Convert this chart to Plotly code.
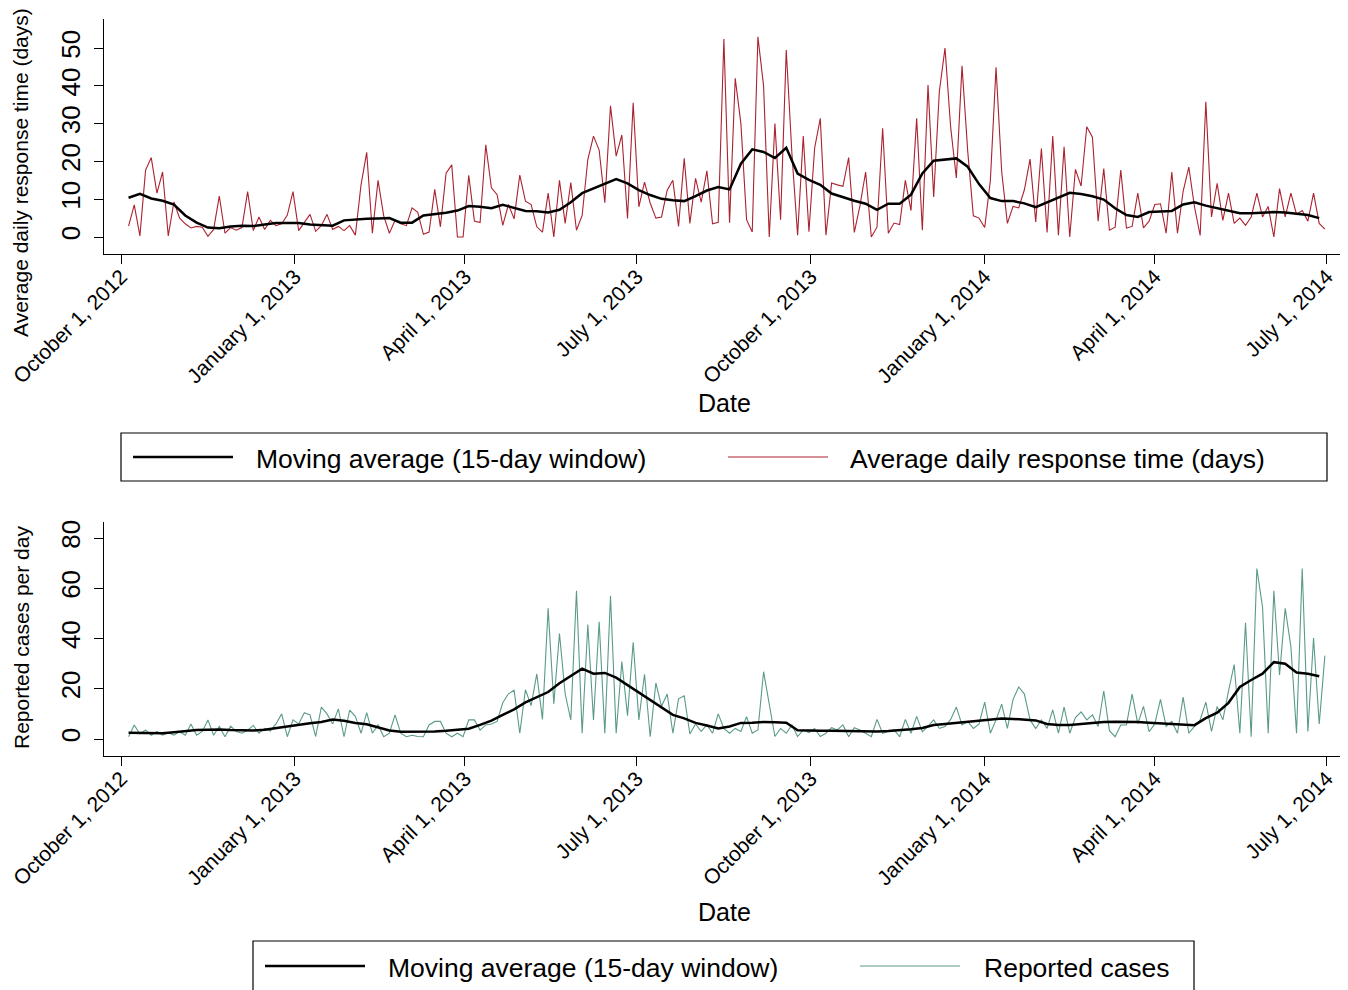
import pandas as pd
import plotly.graph_objects as go

# The page body adds an 8px margin, so the figure is drawn 8px in from the
# window's top-left corner; size it so it fits the 1348x990 window exactly.
OFF = 8
W, H = 1348 - OFF, 990 - OFF


def px(x):
    return (x - OFF) / W


def py(y):
    return 1 - (y - OFF) / H


# ---------------- data ----------------
tick_dates = ["2012-10-01", "2013-01-01", "2013-04-01", "2013-07-01",
              "2013-10-01", "2014-01-01", "2014-04-01", "2014-07-01"]
tick_labels = ["October 1, 2012", "January 1, 2013", "April 1, 2013", "July 1, 2013",
               "October 1, 2013", "January 1, 2014", "April 1, 2014", "July 1, 2014"]

# average daily response time (days), sampled every 3 days from 2012-10-05
response_daily = [
    2.9, 8.5, 0.3, 17.7, 21.0, 11.6, 17.2, 0.3, 9.3, 5.0,
    3.5, 2.4, 2.8, 2.6, 0.2, 2.0, 10.8, 1.0, 2.5, 1.8,
    2.5, 12.0, 1.7, 5.3, 2.0, 4.4, 3.0, 3.5, 5.8, 12.0,
    1.7, 4.0, 6.0, 1.5, 3.0, 6.0, 2.0, 2.8, 1.7, 3.0,
    0.5, 13.8, 22.4, 1.0, 15.0, 5.6, 1.0, 4.4, 3.5, 3.0,
    7.7, 6.5, 0.7, 1.3, 12.6, 2.7, 16.9, 19.1, 0.0, 0.0,
    16.3, 4.2, 3.8, 24.4, 13.0, 11.2, 3.1, 8.6, 4.8, 16.4,
    9.5, 8.6, 2.7, 1.3, 11.6, 0.0, 15.0, 3.6, 14.4, 1.8,
    5.7, 20.5, 26.7, 23.0, 9.1, 34.7, 21.4, 27.0, 4.9, 35.5,
    8.0, 14.5, 9.0, 5.0, 5.3, 12.4, 15.0, 2.8, 20.8, 3.6,
    15.5, 9.2, 17.5, 3.5, 3.9, 52.4, 3.8, 42.0, 30.0, 4.6,
    1.3, 53.0, 40.0, 0.0, 30.0, 4.6, 49.5, 22.0, 0.5, 26.7,
    1.4, 23.5, 31.4, 0.5, 14.3, 13.8, 13.4, 21.0, 1.2, 8.3,
    17.2, 0.0, 2.6, 28.8, 1.0, 3.7, 3.3, 15.0, 7.0, 31.4,
    1.8, 40.2, 10.6, 38.5, 50.0, 29.0, 15.6, 45.3, 22.8, 5.6,
    5.0, 2.5, 15.0, 44.9, 17.2, 3.6, 8.1, 7.7, 12.5, 20.6,
    4.0, 23.4, 1.2, 26.7, 0.5, 23.9, 0.0, 17.9, 13.5, 29.2,
    26.4, 4.2, 18.1, 1.8, 2.6, 17.7, 2.4, 2.8, 11.6, 2.4,
    4.2, 8.6, 8.8, 1.0, 17.2, 1.0, 12.1, 18.5, 8.0, 0.4,
    35.8, 5.3, 14.2, 4.4, 11.6, 3.6, 5.0, 3.1, 5.3, 11.6,
    5.3, 8.1, 0.0, 12.8, 5.3, 11.6, 6.0, 7.0, 4.2, 11.6,
    3.6, 2.1,
]

# 15-day moving average of response time, sampled every 6 days from 2012-10-05
response_ma = [
    10.4, 11.4, 10.2, 9.6, 8.6, 5.7, 3.8, 2.5, 2.3, 2.8,
    3.0, 2.9, 3.3, 3.7, 3.7, 3.7, 3.3, 3.1, 3.0, 4.4,
    4.7, 4.8, 4.9, 5.0, 3.8, 3.8, 5.7, 6.1, 6.4, 7.0,
    8.2, 8.0, 7.6, 8.5, 7.7, 6.9, 6.8, 6.5, 7.2, 9.2,
    11.6, 12.9, 14.2, 15.3, 14.2, 12.4, 11.1, 10.1, 9.7, 9.5,
    10.8, 12.3, 13.2, 12.6, 19.4, 23.2, 22.5, 20.9, 23.6, 16.8,
    15.1, 13.8, 11.5, 10.5, 9.6, 8.8, 7.2, 8.8, 8.8, 11.2,
    16.8, 20.2, 20.4, 20.8, 18.6, 14.0, 10.3, 9.5, 9.5, 8.9,
    7.9, 9.2, 10.6, 11.7, 11.4, 10.8, 9.9, 7.6, 5.8, 5.3,
    6.6, 6.8, 6.9, 8.6, 9.2, 8.3, 7.6, 7.0, 6.3, 6.3,
    6.5, 6.6, 6.5, 6.1, 5.8, 5.0,
]

# reported cases per day, sampled every 3 days from 2012-10-05
cases_daily = [
    0.9, 5.6, 2.0, 3.6, 1.5, 3.0, 1.5, 2.5, 1.5, 3.0,
    1.5, 6.0, 1.5, 3.0, 7.6, 1.5, 5.0, 0.9, 5.1, 3.0,
    2.3, 3.5, 5.4, 2.3, 4.2, 3.2, 6.0, 10.0, 0.9, 7.6,
    6.0, 10.5, 9.6, 1.0, 12.7, 10.0, 6.0, 12.0, 0.9, 11.5,
    9.0, 2.3, 10.5, 2.3, 5.6, 0.9, 2.3, 9.6, 2.3, 0.9,
    1.5, 1.0, 0.9, 5.6, 7.0, 7.0, 2.3, 0.9, 2.3, 0.9,
    7.6, 7.6, 3.5, 5.6, 6.0, 7.0, 14.4, 18.0, 19.4, 2.3,
    19.6, 13.3, 25.9, 7.8, 52.0, 14.0, 42.0, 18.0, 7.6, 59.0,
    2.3, 45.6, 7.6, 46.7, 2.3, 57.0, 2.3, 30.8, 9.3, 38.5,
    7.6, 25.8, 0.9, 22.3, 13.0, 17.9, 2.3, 16.0, 17.2, 2.0,
    6.0, 3.0, 5.6, 2.3, 10.0, 4.2, 2.3, 4.2, 3.0, 8.9,
    2.3, 3.6, 26.8, 14.0, 1.0, 4.2, 2.3, 5.6, 1.0, 3.6,
    2.5, 4.2, 1.0, 2.3, 4.5, 3.6, 5.6, 0.9, 4.5, 3.6,
    2.3, 0.9, 7.8, 2.3, 3.0, 3.6, 0.9, 7.8, 2.3, 9.0,
    2.9, 5.0, 7.6, 4.2, 5.0, 7.8, 12.7, 5.6, 7.0, 4.2,
    6.0, 14.7, 2.3, 7.6, 13.9, 4.2, 15.8, 20.7, 17.9, 7.6,
    4.2, 7.6, 4.2, 11.6, 2.3, 12.7, 2.3, 8.5, 10.8, 7.6,
    9.6, 5.0, 19.1, 3.3, 0.9, 5.6, 5.6, 17.9, 6.0, 13.0,
    2.9, 6.0, 15.8, 5.0, 7.0, 2.3, 16.7, 2.3, 5.0, 7.6,
    14.7, 3.0, 13.0, 7.6, 19.1, 29.6, 2.3, 46.3, 0.9, 67.9,
    52.6, 2.3, 59.0, 25.5, 52.0, 36.9, 2.3, 67.9, 3.0, 40.2,
    6.0, 33.2,
]

# 15-day moving average of reported cases, sampled every 6 days from 2012-10-05
cases_ma = [
    2.5, 2.4, 2.3, 2.3, 2.7, 3.2, 3.6, 3.7, 3.8, 3.6,
    3.4, 3.4, 3.7, 4.4, 5.1, 5.9, 6.3, 6.8, 7.8, 7.3,
    6.4, 5.9, 4.8, 3.4, 2.9, 2.9, 2.8, 3.0, 3.3, 3.8,
    4.1, 5.6, 7.3, 9.6, 11.8, 14.6, 16.8, 18.7, 22.2, 25.2,
    28.0, 26.0, 26.3, 24.4, 21.5, 18.4, 15.6, 12.7, 9.6, 8.2,
    6.4, 5.4, 4.2, 5.0, 6.4, 6.5, 6.8, 6.7, 6.5, 3.5,
    3.3, 3.3, 3.3, 3.2, 3.2, 3.0, 3.0, 3.2, 3.5, 3.9,
    4.4, 5.6, 6.0, 6.4, 6.9, 7.4, 7.7, 8.2, 8.0, 7.8,
    7.4, 6.0, 5.6, 5.6, 6.1, 6.4, 6.8, 6.9, 6.9, 6.8,
    6.5, 6.2, 6.0, 5.8, 5.5, 8.3, 10.5, 14.4, 20.7, 23.5,
    26.0, 30.6, 30.0, 26.5, 26.0, 25.0,
]

ma_label = "Moving average (15-day window)"
resp_label = "Average daily response time (days)"
cases_label = "Reported cases"

# ---------------- styling ----------------
RED = "#ab2230"
TEAL = "#5b9a8b"
FONT = "Liberation Sans, Arial, sans-serif"

daily_dates = pd.date_range("2012-10-05", periods=len(response_daily), freq="3D")
ma_dates = pd.date_range("2012-10-05", periods=len(response_ma), freq="6D")
cdaily_dates = pd.date_range("2012-10-05", periods=len(cases_daily), freq="3D")
cma_dates = pd.date_range("2012-10-05", periods=len(cases_ma), freq="6D")

fig = go.Figure()
fig.add_trace(go.Scatter(x=daily_dates, y=response_daily, mode="lines", name=resp_label,
                         line=dict(color=RED, width=1.1), xaxis="x", yaxis="y"))
fig.add_trace(go.Scatter(x=ma_dates, y=response_ma, mode="lines", name=ma_label,
                         line=dict(color="black", width=2.5), xaxis="x", yaxis="y"))
fig.add_trace(go.Scatter(x=cdaily_dates, y=cases_daily, mode="lines", name=cases_label,
                         line=dict(color=TEAL, width=1.1), xaxis="x2", yaxis="y2"))
fig.add_trace(go.Scatter(x=cma_dates, y=cases_ma, mode="lines", name=ma_label,
                         line=dict(color="black", width=2.5), xaxis="x2", yaxis="y2"))

x_range = ["2012-09-22", "2014-07-09 14:00"]
xdom = [px(104), px(1343)]

common_x = dict(
    type="date", range=x_range, domain=xdom, automargin=False,
    tickmode="array", tickvals=tick_dates, ticktext=tick_labels,
    tickangle=-45, ticks="outside", ticklen=9, tickwidth=1.2, tickcolor="black",
    showline=True, linecolor="black", linewidth=1.2,
    showgrid=False, zeroline=False, ticklabelstandoff=-8,
    ticklabeloverflow="allow",
    tickfont=dict(family=FONT, size=21, color="black"),
)
common_y = dict(
    automargin=False,
    ticks="outside", ticklen=9, tickwidth=1.2, tickcolor="black",
    showline=True, linecolor="black", linewidth=1.2,
    showgrid=False, zeroline=False, tickangle=-90,
    ticklabelstandoff=4, ticklabeloverflow="allow",
    tickfont=dict(family=FONT, size=26, color="black"),
)

fig.update_layout(
    width=W, height=H,
    margin=dict(l=0, r=0, t=0, b=0, autoexpand=False),
    paper_bgcolor="white", plot_bgcolor="white",
    showlegend=False,
    xaxis=dict(common_x, anchor="y"),
    yaxis=dict(common_y, domain=[py(254), py(19)], range=[-4.5, 57.7],
               tickvals=[0, 10, 20, 30, 40, 50], anchor="x"),
    xaxis2=dict(common_x, anchor="y2"),
    yaxis2=dict(common_y, domain=[py(756), py(522)], range=[-6.77, 86.4],
                tickvals=[0, 20, 40, 60, 80], anchor="x2"),
)

annotations = []
shapes = []


def text(x, y, s, size, angle=0, xanchor="center"):
    annotations.append(dict(x=px(x), y=py(y), xref="paper", yref="paper", text=s,
                            showarrow=False, textangle=angle, xanchor=xanchor,
                            yanchor="middle", font=dict(family=FONT, size=size, color="black")))


# axis titles
text(21, 173, resp_label, 21, angle=-90)
text(21, 638, "Reported cases per day", 21, angle=-90)
text(724, 403, "Date", 25)
text(724, 912, "Date", 25)

# legends (boxes drawn in paper space)
shapes.append(dict(type="rect", xref="paper", yref="paper", x0=px(121), x1=px(1327),
                   y0=py(481), y1=py(433), line=dict(color="black", width=1.2)))
shapes.append(dict(type="line", xref="paper", yref="paper", x0=px(133), x1=px(233),
                   y0=py(457), y1=py(457), line=dict(color="black", width=2.5)))
shapes.append(dict(type="line", xref="paper", yref="paper", x0=px(728), x1=px(828),
                   y0=py(457), y1=py(457), line=dict(color=RED, width=1.1)))
text(254, 459, ma_label, 26.5, xanchor="left")
text(848, 459, resp_label, 26.5, xanchor="left")

shapes.append(dict(type="rect", xref="paper", yref="paper", x0=px(253), x1=px(1194),
                   y0=py(1000), y1=py(941), line=dict(color="black", width=1.2)))
shapes.append(dict(type="line", xref="paper", yref="paper", x0=px(265), x1=px(365),
                   y0=py(966), y1=py(966), line=dict(color="black", width=2.5)))
shapes.append(dict(type="line", xref="paper", yref="paper", x0=px(860), x1=px(960),
                   y0=py(966), y1=py(966), line=dict(color=TEAL, width=1.1)))
text(386, 968, ma_label, 26.5, xanchor="left")
text(982, 968, cases_label, 26.5, xanchor="left")

fig.update_layout(annotations=annotations, shapes=shapes)

fig.write_html("out.html")
